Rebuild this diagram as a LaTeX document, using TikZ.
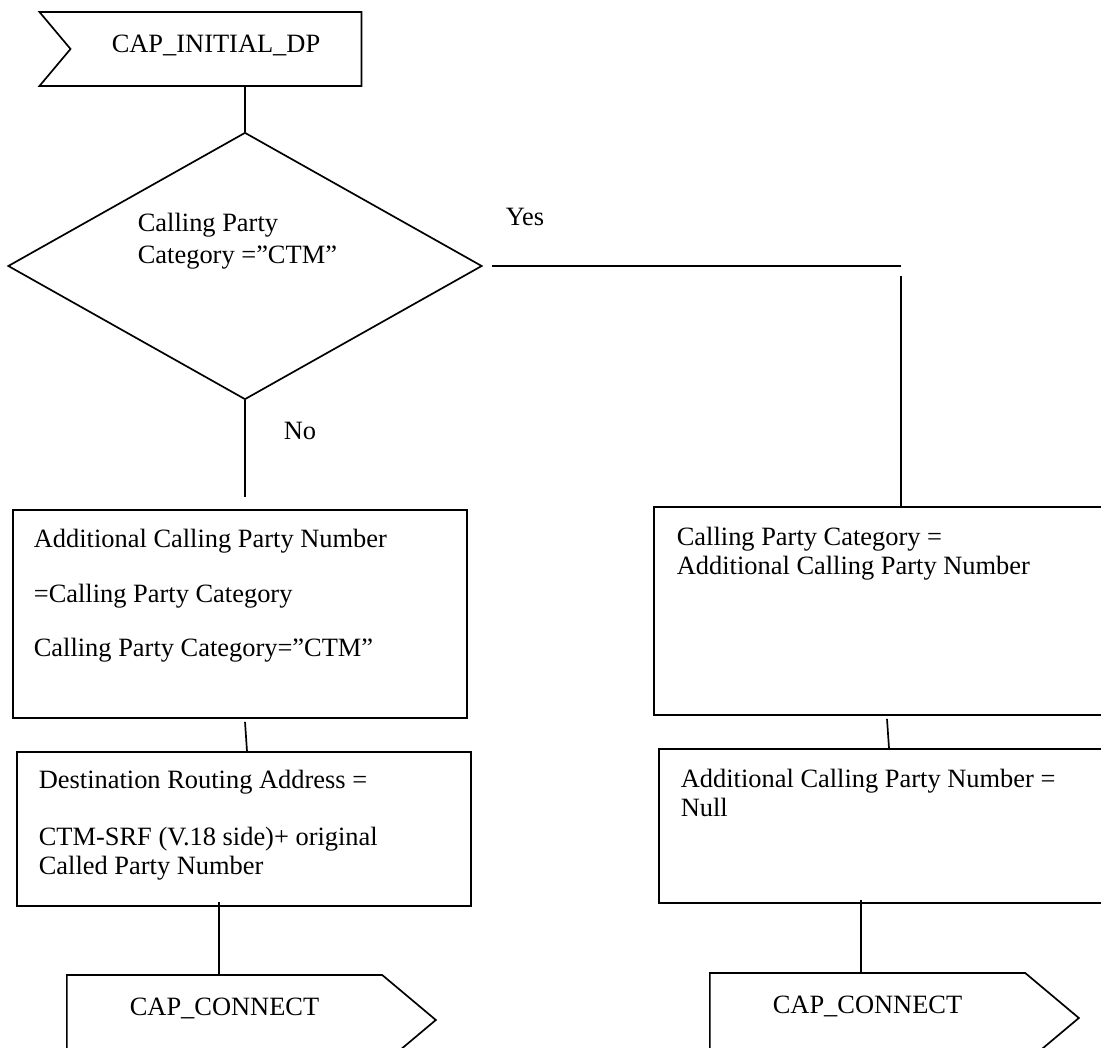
\documentclass[tikz,border=0pt]{standalone}
\usepackage{fontspec}
\setmainfont{Liberation Serif}
\usetikzlibrary{shapes,positioning}

\begin{document}
\begin{tikzpicture}[
    font=\fontsize{18.8pt}{21pt}\selectfont,
    line width=1.2pt,
    decision/.style={diamond, draw=black, minimum width=11.85cm, minimum height=6.675cm, inner sep=0pt},
    box/.style={rectangle, draw=black, inner sep=0pt},
    boxtext/.style={anchor=base west, align=left, inner sep=0pt},
    inputsig/.style={signal, draw=black, signal from=west, signal to=nowhere, signal pointer angle=100, minimum width=8.05cm, minimum height=1.85cm, text depth=0.25cm},
    outputsig/.style={signal, draw=black, signal to=east, signal pointer angle=80, minimum width=9.225cm, minimum height=2.25cm, text depth=0.66cm, anchor=west}
]
\clip (0,0) rectangle (27.525,26.2);

% Start signal and decision
\node[inputsig] (initdp) at (5.4,24.975) {CAP\_INITIAL\_DP};
\node[decision] (dec) at (6.125,19.55) {};
\node[boxtext] (dectext) at (3.425,19.6) {Calling Party\\[2pt]Category =”CTM”};
\node (yes) at (13.125,20.775) {Yes};
\node (no) at (7.5,15.425) {No};

% No branch
\node[box, minimum width=11.35cm, minimum height=5.2cm] (lbox1) at (6.0,10.85) {};
\node[boxtext] (lbox1txt) at (0.825,9.775) {Additional Calling Party Number\\[18pt]=Calling Party Category\\[18pt]Calling Party Category=”CTM”};
\node[box, minimum width=11.35cm, minimum height=3.85cm] (lbox2) at (6.1,5.475) {};
\node[boxtext] (lbox2txt) at (0.95,4.325) {Destination Routing Address =\\[19.5pt]CTM-SRF (V.18 side)+ original\\Called Party Number};
\node[outputsig] (lconn) at (1.65,0.7) {CAP\_CONNECT};

% Yes branch
\node[box, minimum width=12.35cm, minimum height=5.2cm] (rbox1) at (22.525,10.925) {};
\node[boxtext] (rbox1txt) at (16.9,11.825) {Calling Party Category =\\Additional Calling Party Number};
\node[box, minimum width=11.45cm, minimum height=3.85cm] (rbox2) at (22.2,5.55) {};
\node[boxtext] (rbox2txt) at (17.0,5.775) {Additional Calling Party Number =\\Null};
\node[outputsig] (rconn) at (17.725,0.75) {CAP\_CONNECT};

% Connections
\draw (initdp.south -| dec.north) -- (dec.north);
\draw ([xshift=0.225cm]dec.east) -- (dec.east -| rbox1.north);
\draw ([yshift=-0.25cm]dec.east -| rbox1.north) -- (rbox1.north);
\draw (dec.south) -- ([yshift=0.3cm]dec.south |- lbox1.north);
\draw ([xshift=0.125cm,yshift=-0.075cm]lbox1.south) -- ([xshift=0.075cm]lbox2.north);
\draw ([xshift=-0.35cm,yshift=-0.075cm]rbox1.south) -- ([xshift=0.025cm]rbox2.north);
\draw ([xshift=-0.625cm,yshift=0.125cm]lbox2.south) -- ([xshift=-0.625cm]lbox2.south |- lconn.north);
\draw ([xshift=-0.675cm,yshift=0.1cm]rbox2.south) -- ([xshift=-0.675cm]rbox2.south |- rconn.north);

\end{tikzpicture}
\end{document}
